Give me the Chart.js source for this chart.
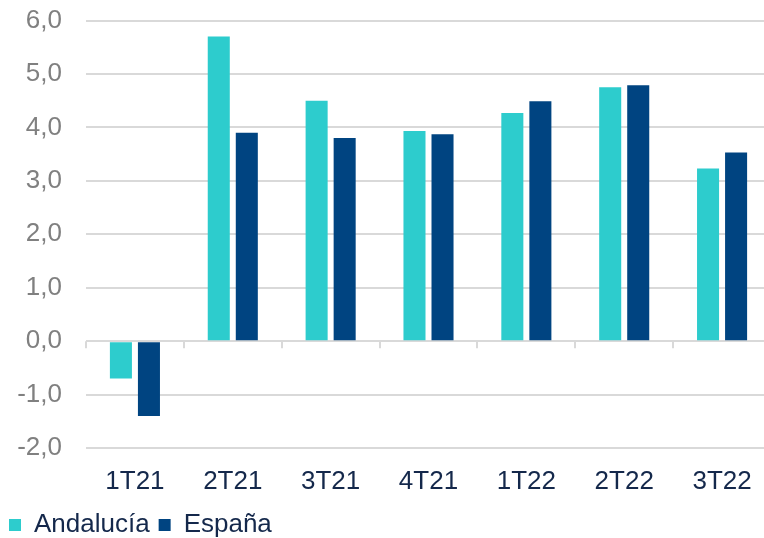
<!DOCTYPE html>
<html>
<head>
<meta charset="utf-8">
<script src="https://cdn.jsdelivr.net/npm/chart.js@4/dist/chart.umd.min.js"></script>
<style>
  html, body { margin: 0; padding: 0; background: #fff; overflow: hidden; }
  #wrap { width: 771px; height: 538px; }
</style>
</head>
<body>
<div id="wrap"><canvas id="chart"></canvas></div>
<script>
// datos
var trimestres = ['1T21', '2T21', '3T21', '4T21', '1T22', '2T22', '3T22'];
var andalucia = [-0.7, 5.7, 4.5, 3.93, 4.27, 4.75, 3.23];
var espana = [-1.4, 3.9, 3.8, 3.87, 4.49, 4.79, 3.53];
var ejeMin = -2, ejeMax = 6, paso = 1;

var colorGrid = '#d9d9d9';
var fuente = 'Liberation Sans, Arial, sans-serif';

// marcas pequeñas del eje X sobre la línea del cero
var marcasCero = {
    id: 'marcasCero',
    afterDraw: function (chart) {
        var x = chart.scales.x, y = chart.scales.y;
        var ctx = chart.ctx;
        var y0 = y.getPixelForValue(0);
        var ancho = x.getPixelForValue(1) - x.getPixelForValue(0);
        ctx.save();
        ctx.strokeStyle = colorGrid;
        ctx.lineWidth = 2;
        ctx.beginPath();
        for (var i = 0; i <= trimestres.length; i++) {
            var px = Math.round(x.getPixelForValue(i) - ancho / 2);
            ctx.moveTo(px, y0);
            ctx.lineTo(px, y0 + 7);
        }
        ctx.stroke();
        ctx.restore();
    }
};

var ctx = document.getElementById('chart').getContext('2d');
var chart = new Chart(ctx, {
    type: 'bar',
    data: {
        labels: trimestres,
        datasets: [{
            label: 'Andalucía',
            data: andalucia,
            backgroundColor: '#2dcccd',
            borderWidth: 0
        }, {
            label: 'España',
            data: espana,
            backgroundColor: '#004481',
            borderWidth: 0
        }]
    },
    options: {
        responsive: true,
        maintainAspectRatio: false,
        animation: false,
        categoryPercentage: 0.573,
        barPercentage: 0.786,
        layout: { padding: { left: 0, right: 0, top: 0, bottom: -10 } },
        plugins: {
            tooltip: { enabled: false },
            legend: {
                position: 'bottom',
                align: 'start',
                labels: {
                    boxWidth: 12,
                    boxHeight: 12,
                    padding: 9,
                    color: '#14284b',
                    font: { family: fuente, size: 26 }
                }
            }
        },
        scales: {
            x: {
                grid: { display: false, drawTicks: false },
                border: { display: false },
                ticks: {
                    color: '#14284b',
                    padding: 18,
                    font: { family: fuente, size: 26 }
                },
                afterFit: function (s) { s.height = 55; }
            },
            y: {
                min: ejeMin,
                max: ejeMax,
                grid: { color: colorGrid, lineWidth: 2, drawTicks: false },
                border: { display: false },
                ticks: {
                    stepSize: paso,
                    padding: 24,
                    color: '#808080',
                    font: { family: fuente, size: 26 },
                    callback: function (v) { return v.toFixed(1).replace('.', ','); }
                },
                afterFit: function (s) {
                    s.width = 86;
                    s.paddingTop = 20.5;
                }
            }
        }
    },
    plugins: [marcasCero]
});
</script>
</body>
</html>
